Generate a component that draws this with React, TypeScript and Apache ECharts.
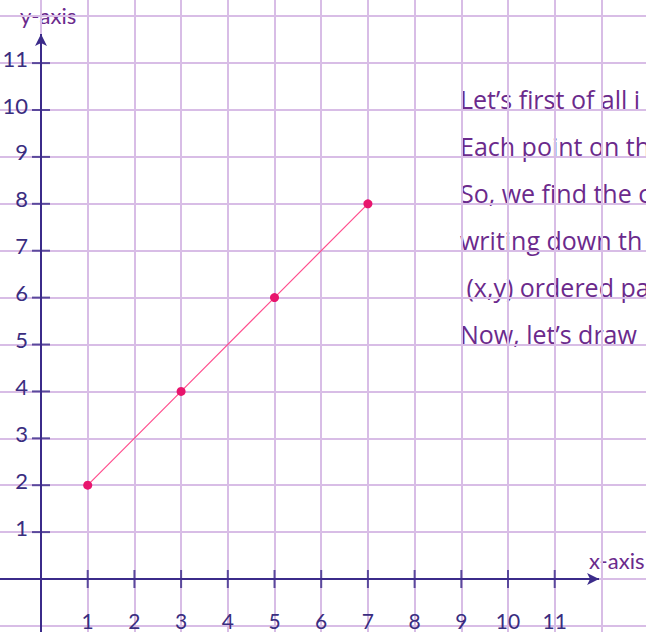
import React, { useEffect, useRef } from "react";
import * as echarts from "echarts";

// data
const pointX = [1, 3, 5, 7];
const pointY = [2, 4, 6, 8];
const xTickValues = [1, 2, 3, 4, 5, 6, 7, 8, 9, 10, 11];
const yTickValues = [1, 2, 3, 4, 5, 6, 7, 8, 9, 10, 11];
const noteLines = [
  "Let\u2019s first of all i",
  "Each point on th",
  "So, we find the c",
  "writing down th",
  " (x,y) ordered pa",
  "Now, let\u2019s draw",
];
const noteBaselines = [10, 9, 8, 7, 6, 5];

const X_MIN = -1;
const X_MAX = 13;
const Y_MIN = -2;
const Y_MAX = 13;
const X_ARROW_END = 11.95;
const Y_ARROW_END = 11.62;

const AXIS_COLOR = "#3b2b8a";
const GRID_COLOR = "#d8bde6";
const TEXT_PURPLE = "#6b2a8c";
const LABEL_COLOR = "#3a2d80";
const FONT = "Lato, 'Open Sans', sans-serif";
const NOTE_FONT = "'Open Sans', Lato, sans-serif";

export default function App() {
  const ref = useRef<HTMLDivElement>(null);

  useEffect(() => {
    if (!ref.current) return;
    const chart = echarts.init(ref.current, null, { renderer: "svg" });

    const unitX = 46.7;
    const unitY = 46.9;
    const originX = 41;
    const originY = 579;

    const gridLeft = originX + X_MIN * unitX;
    const gridRight = 646 - (originX + X_MAX * unitX);
    const gridTop = originY - Y_MAX * unitY;
    const gridBottom = 632 - (originY - Y_MIN * unitY);

    const lineData = pointX.map((x, i) => [x, pointY[i]]);

    chart.setOption({
      animation: false,
      backgroundColor: "#ffffff",
      grid: {
        left: gridLeft,
        right: gridRight,
        top: gridTop,
        bottom: gridBottom,
        containLabel: false,
        outerBoundsMode: "none",
      },
      xAxis: {
        type: "value",
        min: X_MIN,
        max: X_MAX,
        interval: 1,
        position: "bottom",
        offset: -(-Y_MIN * unitY),
        axisLine: { show: false, onZero: false },
        axisTick: { show: false },
        splitLine: { show: true, lineStyle: { color: GRID_COLOR, width: 2 } },
        axisLabel: {
          show: true,
          customValues: xTickValues,
          margin: 31,
          color: LABEL_COLOR,
          fontFamily: FONT,
          fontSize: 21,
        },
      },
      yAxis: {
        type: "value",
        min: Y_MIN,
        max: Y_MAX,
        interval: 1,
        position: "left",
        offset: -(-X_MIN * unitX),
        axisLine: { show: false, onZero: false },
        axisTick: { show: false },
        splitLine: { show: true, lineStyle: { color: GRID_COLOR, width: 2 } },
        axisLabel: {
          show: true,
          customValues: yTickValues,
          margin: 13,
          color: LABEL_COLOR,
          fontFamily: FONT,
          fontSize: 22,
          verticalAlign: "bottom",
          lineHeight: 10,
        },
      },
      series: [
        {
          type: "scatter",
          silent: true,
          symbol: "rect",
          symbolSize: [2, 18],
          itemStyle: { color: AXIS_COLOR },
          data: xTickValues.map((v) => [v, 0]),
          z: 3,
          markLine: {
            silent: true,
            symbol: ["none", "arrow"],
            symbolSize: [9, 12],
            label: { show: false },
            emphasis: { disabled: true },
            lineStyle: { color: AXIS_COLOR, width: 2, type: "solid" },
            data: [
              [{ coord: [X_MIN, 0] }, { coord: [X_ARROW_END, 0] }],
              [{ coord: [0, Y_MIN] }, { coord: [0, Y_ARROW_END] }],
            ],
          },
        },
        {
          type: "scatter",
          silent: true,
          symbol: "rect",
          symbolSize: [18, 2],
          itemStyle: { color: AXIS_COLOR },
          data: yTickValues.map((v) => [0, v]),
          z: 3,
        },
        {
          type: "line",
          data: lineData,
          symbol: "circle",
          symbolSize: 9,
          showSymbol: true,
          lineStyle: { color: "#ff4d8d", width: 1.2 },
          itemStyle: { color: "#e8156d" },
          emphasis: { disabled: true },
          z: 5,
        },
      ],
      graphic: [
        {
          type: "text",
          left: 20,
          top: 4,
          style: { text: "y-axis", fill: TEXT_PURPLE, font: `22px ${FONT}` },
        },
        {
          type: "text",
          left: 589,
          top: 549,
          style: { text: "x-axis", fill: TEXT_PURPLE, font: `22px ${FONT}` },
        },
        ...noteLines.map((t, i) => ({
          type: "text",
          x: 460,
          y: originY - noteBaselines[i] * unitY - 11,
          style: {
            text: t,
            fill: TEXT_PURPLE,
            font: `25px ${NOTE_FONT}`,
            verticalAlign: "middle",
            align: "left",
          },
        })),
      ],
    });

    return () => chart.dispose();
  }, []);

  return (
    <div
      ref={ref}
      style={{ position: "fixed", left: 0, top: 0, width: 646, height: 632, background: "#fff" }}
    />
  );
}
